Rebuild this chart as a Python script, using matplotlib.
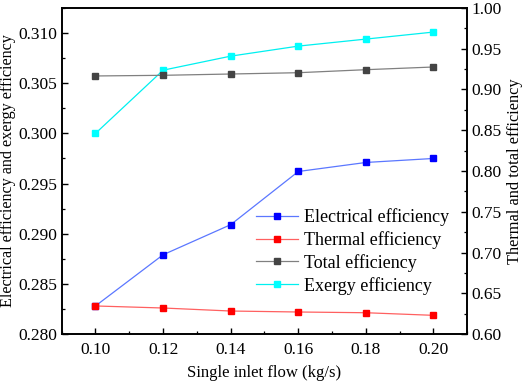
import numpy as np
import matplotlib.pyplot as plt
from matplotlib.ticker import MultipleLocator, FormatStrFormatter

# ---- Data ----
flow = [0.10, 0.12, 0.14, 0.16, 0.18, 0.20]

electrical = [0.2828, 0.2879, 0.2909, 0.2962, 0.2971, 0.2975]
exergy     = [0.3000, 0.3063, 0.3077, 0.3087, 0.3094, 0.3101]
thermal    = [0.6344, 0.6319, 0.6282, 0.6270, 0.6261, 0.6229]
total      = [0.9166, 0.9174, 0.9190, 0.9206, 0.9243, 0.9276]

plt.rcParams['font.family'] = ['Liberation Serif', 'DejaVu Serif']

# ---- Plot ----
fig = plt.figure(figsize=(5.26, 3.86), dpi=100)
ax = fig.add_axes([0.1173, 0.1347, 0.7711, 0.8446])
ax2 = ax.twinx()

ms = 4.6
l1, = ax.plot(flow, electrical, color='#5b77ff', lw=0.9, marker='s', ms=ms,
              mfc='#0000ff', mec='#0000ff', label='Electrical efficiency')
l4, = ax.plot(flow, exergy, color='#00f0f0', lw=0.9, marker='s', ms=ms,
              mfc='#00ffff', mec='#00ffff', label='Exergy efficiency')
l2, = ax2.plot(flow, thermal, color='#ff6060', lw=0.9, marker='s', ms=ms,
               mfc='#ff0000', mec='#ff0000', label='Thermal efficiency')
l3, = ax2.plot(flow, total, color='#808080', lw=0.9, marker='s', ms=ms,
               mfc='#444444', mec='#444444', label='Total efficiency')

ax.set_xlim(0.09, 0.21)
ax.set_ylim(0.280, 0.3125)
ax2.set_ylim(0.60, 1.00)

ax.xaxis.set_major_locator(MultipleLocator(0.02))
ax.xaxis.set_minor_locator(MultipleLocator(0.01))
ax.xaxis.set_major_formatter(FormatStrFormatter('%.2f'))
ax.yaxis.set_major_locator(MultipleLocator(0.005))
ax.yaxis.set_minor_locator(MultipleLocator(0.0025))
ax.yaxis.set_major_formatter(FormatStrFormatter('%.3f'))
ax2.yaxis.set_major_locator(MultipleLocator(0.05))
ax2.yaxis.set_minor_locator(MultipleLocator(0.025))
ax2.yaxis.set_major_formatter(FormatStrFormatter('%.2f'))

for a in (ax, ax2):
    a.tick_params(which='major', direction='in', length=4, width=1.0, labelsize=12.5)
    a.tick_params(which='minor', direction='in', length=2.5, width=0.9)
    for s in a.spines.values():
        s.set_linewidth(1.2)
ax.tick_params(axis='y', which='both', right=False, pad=3)
ax.tick_params(axis='x', which='both', top=False)
ax.tick_params(axis='x', pad=6)
ax2.tick_params(axis='y', pad=3)

ax.set_xlabel('Single inlet flow (kg/s)', fontsize=12, labelpad=5)
ax.set_ylabel('Electrical efficiency and exergy efficiency', fontsize=11.6, labelpad=2)
ax2.set_ylabel('Thermal and total efficiency', fontsize=11.8, labelpad=4)

# combined legend for both axes
leg = ax2.legend(handles=[l1, l2, l3, l4], loc='upper left',
                 bbox_to_anchor=(0.487, 0.461), bbox_transform=fig.transFigure,
                 frameon=False, fontsize=13, handlelength=2.3, handletextpad=0.35,
                 labelspacing=0.28, borderaxespad=0, borderpad=0)

fig.savefig('out.png', dpi=100)
